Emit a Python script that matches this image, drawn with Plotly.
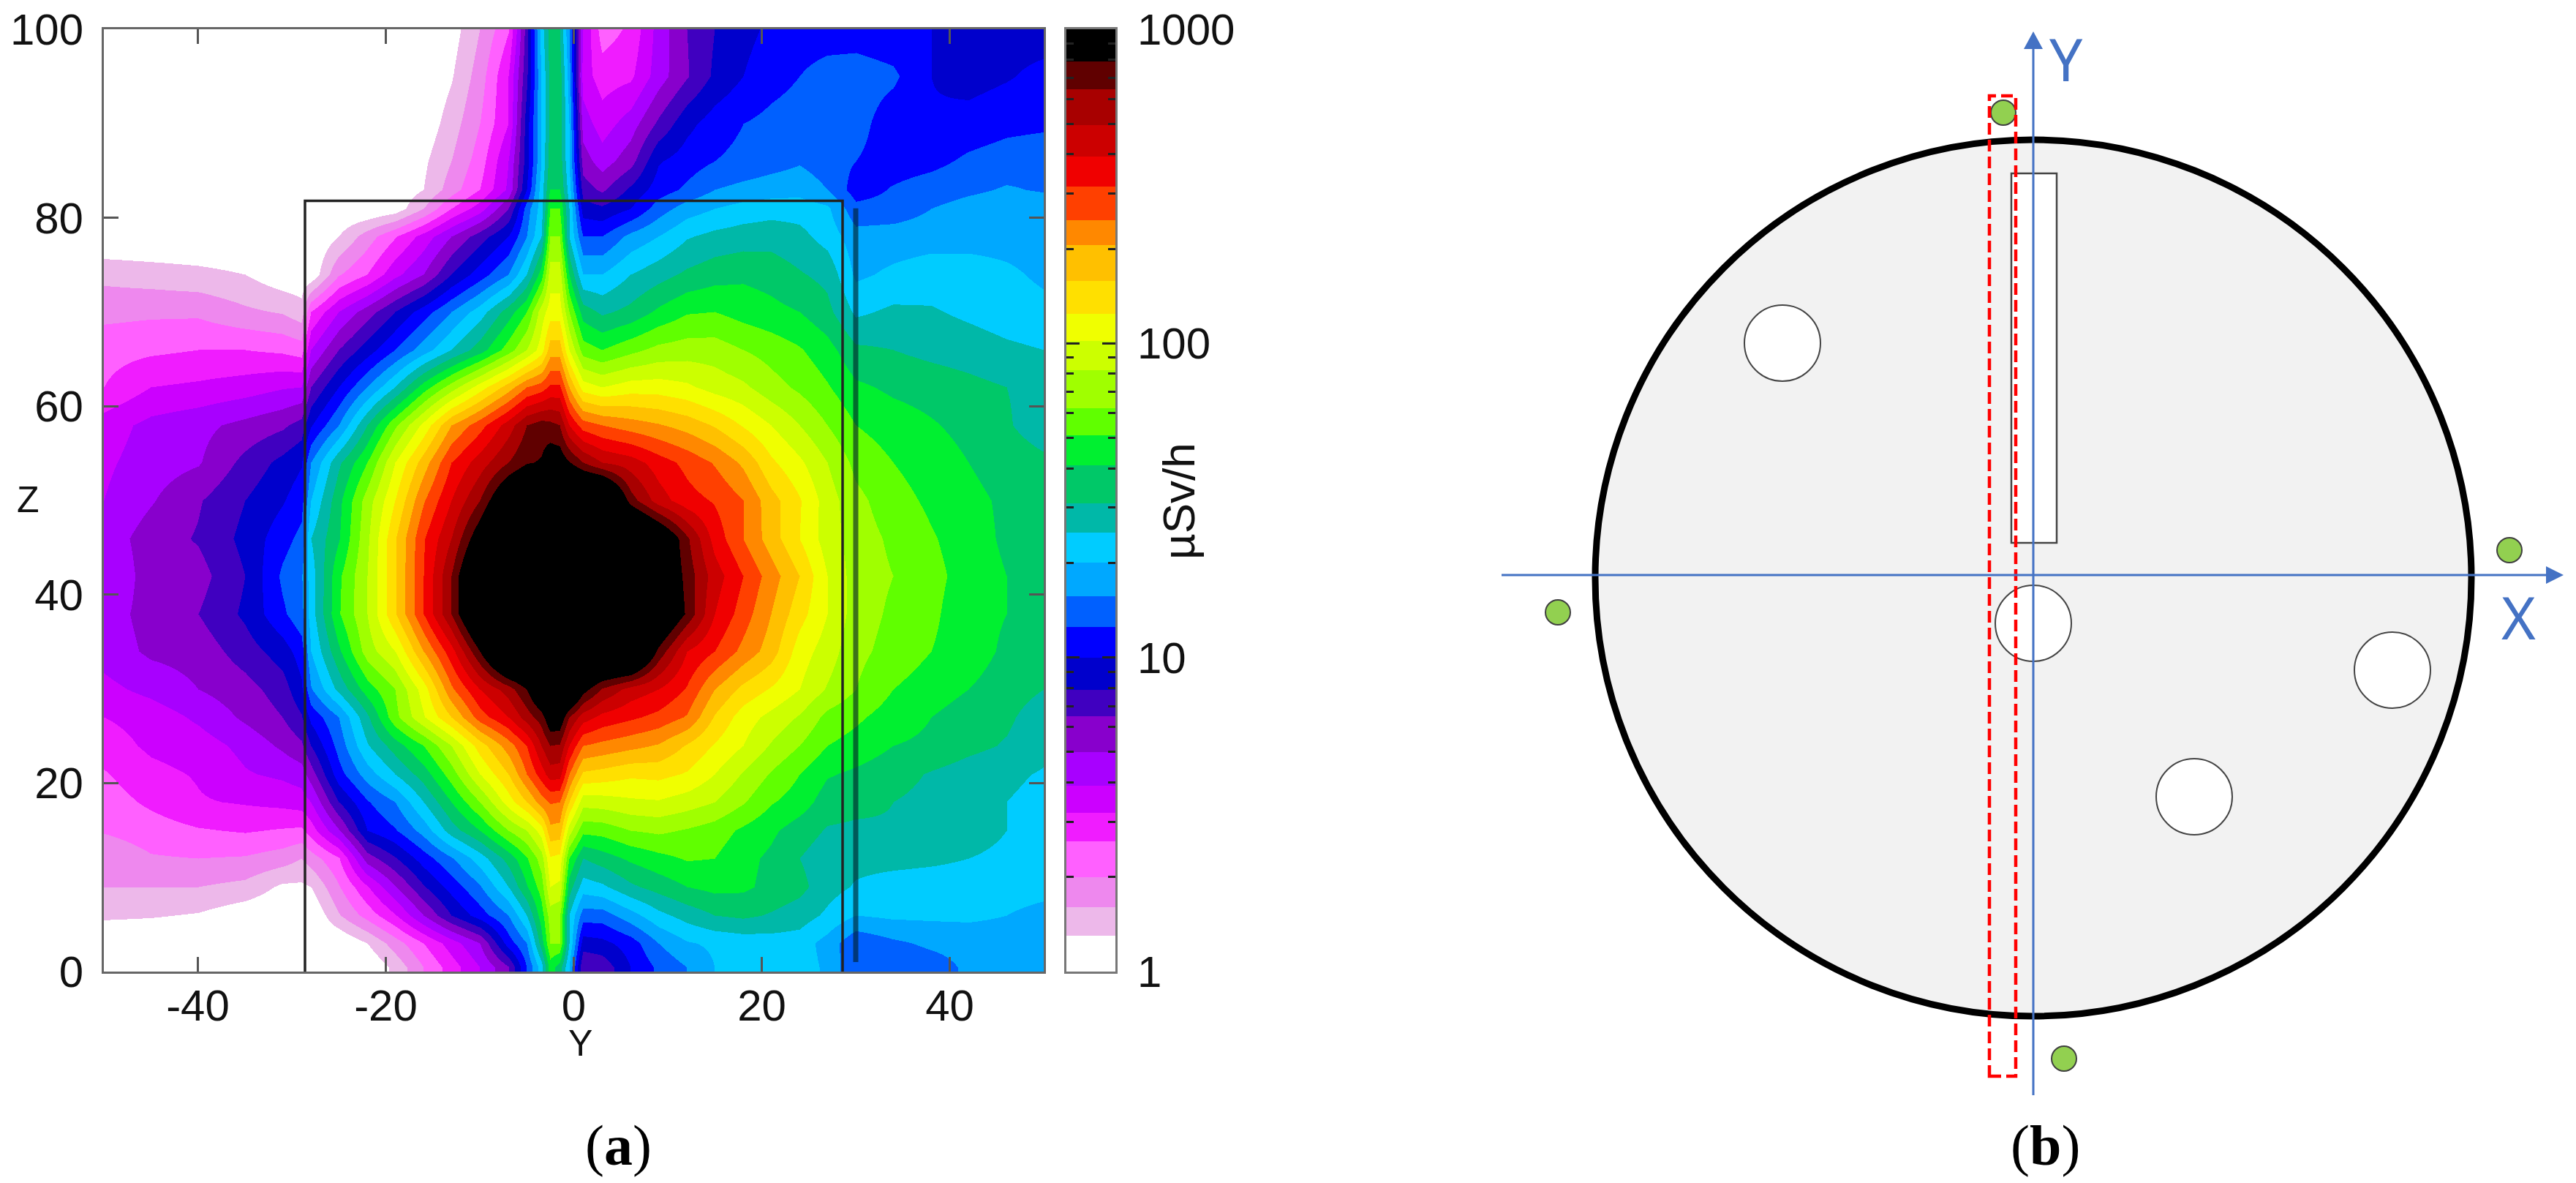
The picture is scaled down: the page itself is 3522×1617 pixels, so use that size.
import plotly.graph_objects as go

W, H = 3522, 1617

# ---------- panel (a): dose-rate map ----------
Y_NODES = [-50,-45,-40,-35,-31,-29,-28,-25,-22,-19,-16,-13,-10,-7,-5,-3.5,-2.5,-1.5,-0.5,1,3,6,9,12,15,18,21,24,27,30,34,38,42,46,50]
Z_NODES = [0.5,3,6,9,12,15,18,21,24,27,30,34,38,42,46,50,54,58,62,66,70,74,78,81,83,86,90,95,100]

# colour-band position read at each node (0 = white band ... 29 and above = black band)
BAND_Z0 = [0,0,0,0,0,0,0,0,0,1.3,3,4.5,6,7.9,11,13.5,16.5,15.5,13,8,8.3,10,11.2,12,13,13.3,13.5,13.5,12.8,11,11.2,11.5,12.2,12.3,12.3]
BAND_Z3 = [0,0,0,0,0,0,0,0,1,2.5,4,5.5,7,10.5,12,15.5,18,18,14,9.5,9.7,10.5,12,12.9,13.2,13.4,13.5,13.5,12.6,11.2,11.8,12.2,12.4,12.5,12.5]
BAND_Z6 = [1.2,1.1,0.9,0.3,0,0,0,1.9,3.4,4.9,7,9,10.5,12,14,16.5,18.5,18.2,14,11.5,11.5,12.6,13.7,14.4,15,15.2,14.9,14.5,13.8,13,13.2,13.2,13.2,13,12.7]
BAND_Z9 = [2,2,2,1.7,0.8,0.8,1,2.9,4.9,6.9,8.9,10.4,11.9,14,15.9,17.5,20,19.8,15.5,13.5,13.8,14.8,15.4,16,16.3,16.2,15.7,15.3,14.4,13.9,13.6,13.5,13.5,13.4,13.3]
BAND_Z12 = [2.2,2.9,3,2.9,2.5,2,2.5,3.9,7.5,8.9,10.5,11.9,13.5,15.4,16.9,18.5,20.9,20.7,17,15,15.5,16.2,16.7,17.1,17,16.3,15.8,15,14.4,14.3,14.3,14.2,14,13.9,13.4]
BAND_Z15 = [3.1,3.5,3.9,4.1,3.9,3.8,4.5,6.9,10,10.9,12.4,14.5,16,18,19,20.5,22.7,22.6,19.5,17.3,17.4,18,18.2,17.9,17.5,16.8,16.2,15.5,14.9,14.8,14.9,14.5,14.2,14,13.6]
BAND_Z18 = [3.5,4.2,4.9,5.1,5.3,5.5,6,9,10.9,12,14,16,18,20.5,22,23.5,24.1,24,22,19.4,19.5,19.8,19.9,19.5,19,18.1,17.1,16.5,15.5,15.3,15,14.7,14.3,14,13.7]
BAND_Z21 = [3.9,4.7,5.1,5.9,6.2,6.5,7.5,10.6,12.5,14,15.5,17.5,20,22,24,25.5,26.5,26.4,24,21.8,21.6,21.2,21.3,20.9,20,18.9,17.9,17,16.1,15.8,15.4,14.9,14.5,14.2,13.9]
BAND_Z24 = [4.5,5.2,5.5,6.3,7.2,7.8,9,11.4,13.9,15.5,17,19,21.5,23.5,25,27,28,27.9,26,24,23.7,23.3,22.9,21.9,20.9,20,18.9,18,17,16.6,16,15.8,15.3,14.9,14.3]
BAND_Z27 = [5,5.4,6.2,7.2,8,8.9,10.3,12,14.8,17.7,19.9,22,24.5,26,27.5,28.5,30,30,28,26.5,25.7,25.2,24.7,23.9,21.9,20.5,19.7,18.9,17.7,17.2,16.5,16,15.5,15.2,14.4]
BAND_Z30 = [5.7,6.3,7,7.6,8.5,9.8,11.9,14.3,16.5,18,20.5,23.8,26,27.5,29,31,32,32,32,29.5,27.9,26.6,26,24.9,23,21.7,20.9,20,18.9,18,17,16.5,16,15.5,15]
BAND_Z34 = [6.4,7.2,7.4,8.5,9.5,10.5,13,15.8,18.5,20,23,25.6,29,33,33,33,33,33,33,33,33,33,28.7,26,25,23.7,22.5,20.5,19.5,18.3,17.6,17,16.5,15.8,15.3]
BAND_Z38 = [6.5,7.4,8,9.2,10.8,11.7,13.5,16.9,19,21.9,25,28,32,33,33,33,33,33,33,33,33,33,31.5,28.8,26,24.5,23,21.4,20,18.5,17.8,17.2,16.4,16,15.4]
BAND_Z42 = [6,7.5,7.6,9,11.2,11.9,13.5,16.8,19,21.9,25,28,32,33,33,33,33,33,33,33,33,33,31,28.6,26.5,25,23.5,22,20,18.5,18,17.3,16.6,16,15.3]
BAND_Z46 = [6.4,7.5,8.1,9.3,10.6,11.3,14,15.9,18.8,21.9,24.9,27,30,33,33,33,33,33,33,33,33,33,31,28.2,25.6,24,22.5,21,19.5,18.5,17.8,17.1,16.5,15.8,15.4]
BAND_Z50 = [6,6.9,7.9,9,9.9,10.6,13,15.7,18.5,21,23.9,26,28,31,32,33,33,33,33,33,33,28.5,26.5,25.4,24.9,24,22.4,21.1,19.5,18.3,17.4,16.8,16.3,15.8,15.4]
BAND_Z54 = [5.8,6.5,6.9,8.3,9.3,9.9,12,14.8,17,20,22.5,25,26.5,28,28.9,29.1,29.8,29.8,29.1,28,27,26.5,25.5,24.7,23.9,22.8,21.2,20.2,19,17.7,17,16.5,16,15.5,15.2]
BAND_Z58 = [5.5,6.3,6.7,7.3,7.8,8.4,9.9,12,15,17.8,20.3,23,24.6,26.5,28,28.5,28.3,28,26,24.5,24,23.5,23.1,22.6,21.9,20.9,20,19,18,17,16.5,16.1,15.7,15.1,14.5]
BAND_Z62 = [4,5,5.2,5.5,5.9,6,8,10,12,14,16.5,18.5,20.5,22.5,24,24.5,25.2,25.2,23,20.5,20,20.5,20.5,20.2,19.6,19.2,18.4,17.8,17.1,16.2,15.8,15.6,15.3,15,14.7]
BAND_Z66 = [3.6,3.8,4,4,3.8,3.5,6,8,9.5,11,12.5,14,15.5,17.5,19,20.5,22.5,22.5,20,17.5,17,17.7,18.3,18.5,18.5,18,17.6,17.1,16.4,15.2,15,14.7,14.5,14.2,14]
BAND_Z70 = [2.7,2.8,2.8,2.2,1.9,1.4,4,6,7.5,9,10.5,12,13.5,15.5,17,19.5,20.5,20.5,18,15.5,14.8,15.3,16.2,16.9,17,16.6,16.3,16,15.3,13.8,14.2,14.1,13.8,13.5,13.3]
BAND_Z74 = [1.7,1.5,1.3,1,0.3,0.3,0.2,2.9,4,5.7,7,9,10.5,12,14,16.5,19.5,19.5,16,13,13,14,14.6,15.2,15.6,15.8,15.6,15.1,14.7,12.8,13.2,13.5,13.5,13.2,12.8]
BAND_Z78 = [0,0,0,0,0,0,0,1,2.5,3.9,5.4,7,8.5,10,12,14,18,18,14,11,11,12.3,13,13.9,14.3,14.5,14.6,14.3,13.6,12.4,12.5,12.6,12.6,12.6,12.5]
BAND_Z81 = [0,0,0,0,0,0,0,0,0,0.4,2,4,5.5,8,11.5,13.5,17,17,14,9.5,9.2,10,11.5,12.5,13,13.4,13.6,13.6,13.2,11.3,11.4,12,12.4,12.6,12.6]
BAND_Z83 = [0,0,0,0,0,0,0,0,0,0.2,1,2.5,4,6.2,10,13.5,16,16,13.5,8.5,7.8,9.2,10.5,11.2,12,12.3,12.5,12.6,12,10.5,11.1,11.5,11.8,12.1,11.9]
BAND_Z86 = [0,0,0,0,0,0,0,0,0,0,0.8,2,3.5,6,9.5,13,15.5,15.6,13,7.5,6.5,7.6,9.9,10.5,11,11.3,11.6,11.9,11.5,11,10.5,10.7,11.2,11.5,11.7]
BAND_Z90 = [0,0,0,0,0,0,0,0,0,0,0.3,1.5,3,5,9.5,13,15.3,15.5,13,6.5,5.5,6.5,8.2,9.7,10.5,11,11.3,11.5,11.6,11.4,10.4,10.1,10.4,10.7,10.8]
BAND_Z95 = [0,0,0,0,0,0,0,0,0,0,0,0.9,2.5,5,8.8,13,15.3,15.5,12.5,5.5,4.5,4.8,6.5,7.9,9.2,10,10.6,11,11.4,11.5,11.2,10,9.6,9.9,10.3]
BAND_Z100 = [0,0,0,0,0,0,0,0,0,0,0,0.5,2,3.9,8.5,13.5,15.5,15,12,6,3.5,4.2,6.4,8,9,9.7,10.2,10.5,10.5,10.5,10.3,10,9.8,9.6,9.5]

BAND_ROWS = [BAND_Z0,BAND_Z3,BAND_Z6,BAND_Z9,BAND_Z12,BAND_Z15,BAND_Z18,BAND_Z21,BAND_Z24,BAND_Z27,BAND_Z30,
             BAND_Z34,BAND_Z38,BAND_Z42,BAND_Z46,BAND_Z50,BAND_Z54,BAND_Z58,BAND_Z62,BAND_Z66,BAND_Z70,BAND_Z74,
             BAND_Z78,BAND_Z81,BAND_Z83,BAND_Z86,BAND_Z90,BAND_Z95,BAND_Z100]
for r in BAND_ROWS:
    assert len(r) == len(Y_NODES)

BAND_COLORS = ["#FFFFFF","#EDB8EA","#EE88EE","#FF60FF","#F01CFF","#CC00FF","#A800FF","#8800CC","#4000C0","#0000CC",
               "#0000FF","#0060FF","#00A8FF","#00CCFF","#00B8A8","#00C868","#00F030","#60FF00","#A0FF00","#CCFF00",
               "#F0FF00","#FFE000","#FFC000","#FF8800","#FF4000","#F00000","#CC0000","#A80000","#600000","#000000"]
BAND_EDGES = [1,1.3,1.6,2,2.6,3.2,3.9,5,6.5,7.9,10,12.5,15.7,20,25,31,41,51,62,82,102,124,158,205,247,316,394,494,643,788,1000]
CB_MAJOR = [1,10,100,1000]
CB_MINOR = [2,3,4,5,6,7,8,9,20,30,40,50,60,70,80,90,200,300,400,500,600,700,800,900]
X_TICKS = [-40,-20,0,20,40]
X_LABELS = ["-40","-20","0","20","40"]
Z_TICKS = [0,20,40,60,80,100]
BOX_Y = [-28.6,-28.6,28.6,28.6]
BOX_Z = [0,81.8,81.8,0]
ROD_Y = [30,30]
ROD_Z = [1,81]

n = len(BAND_COLORS)
scale = []
for i, c in enumerate(BAND_COLORS):
    scale += [[i/n, c], [(i+1)/n, c]]

def dom_x(a, b): return [a/W, b/W]
def dom_y(top, bot): return [1-bot/H, 1-top/H]

fig = go.Figure()
fig.add_trace(go.Heatmap(x=Y_NODES, y=Z_NODES, z=BAND_ROWS, colorscale=scale, zmin=0, zmax=n,
                         zsmooth="best", showscale=False, xaxis="x", yaxis="y", hoverinfo="skip"))
fig.add_trace(go.Scatter(x=BOX_Y, y=BOX_Z, mode="lines", line=dict(color="#222222", width=3.5),
                         showlegend=False, xaxis="x", yaxis="y", hoverinfo="skip"))
fig.add_trace(go.Scatter(x=ROD_Y, y=ROD_Z, mode="lines", line=dict(color="rgba(0,30,40,0.62)", width=7),
                         showlegend=False, xaxis="x", yaxis="y", hoverinfo="skip"))
fig.add_trace(go.Heatmap(x=[0,1], y=BAND_EDGES, z=[[i+0.5] for i in range(n)], colorscale=scale, zmin=0, zmax=n,
                         showscale=False, xaxis="x2", yaxis="y2", hoverinfo="skip"))

FONT = "Liberation Sans"
AX = dict(showgrid=False, zeroline=False, ticks="inside", ticklen=20, tickwidth=3, tickcolor="#555555",
          showline=True, linecolor="#666666", linewidth=3, mirror="ticks", automargin=False,
          tickfont=dict(family=FONT, size=60, color="#111111"))

# ---------- panel (b): top-view schematic, units are figure pixels from the centre ----------
CX, CY = 2780, 786
DISK_CY = -4
DISK_R = 599
HOLE_R = 52
HOLES_X = [-343, 0, 491, 220]
HOLES_Y = [317, -66, -130, -303]
SLIT_X = [-30, 32]
SLIT_Y = [549, 44]
WINDOW_X = [-60, -24]
WINDOW_Y = [655, -685]
DOTS_X = [-41, 651, -650, 42]
DOTS_Y = [632, 34, -51, -661]
DOT_R = 17
AXIS_H = [-727, 725]
AXIS_V = [-711, 743]
ARROW = 24
BLUE = "#4472C4"

shapes = [
    dict(type="circle", xref="x3", yref="y3", x0=-DISK_R, x1=DISK_R, y0=DISK_CY-DISK_R, y1=DISK_CY+DISK_R,
         fillcolor="#F2F2F2", line=dict(color="black", width=9)),
]
for hx, hy in zip(HOLES_X, HOLES_Y):
    shapes.append(dict(type="circle", xref="x3", yref="y3", x0=hx-HOLE_R, x1=hx+HOLE_R, y0=hy-HOLE_R, y1=hy+HOLE_R,
                       fillcolor="white", line=dict(color="#444444", width=2)))
shapes.append(dict(type="rect", xref="x3", yref="y3", x0=SLIT_X[0], x1=SLIT_X[1], y0=SLIT_Y[1], y1=SLIT_Y[0],
                   fillcolor="white", line=dict(color="#444444", width=2.5)))
for dx, dy in zip(DOTS_X, DOTS_Y):
    shapes.append(dict(type="circle", xref="x3", yref="y3", x0=dx-DOT_R, x1=dx+DOT_R, y0=dy-DOT_R, y1=dy+DOT_R,
                       fillcolor="#92D050", line=dict(color="#404040", width=2)))
shapes.append(dict(type="rect", xref="x3", yref="y3", x0=WINDOW_X[0], x1=WINDOW_X[1], y0=WINDOW_Y[1], y1=WINDOW_Y[0],
                   fillcolor="rgba(0,0,0,0)", line=dict(color="#FF0000", width=4.5, dash="16px,7px")))
shapes.append(dict(type="line", xref="x3", yref="y3", x0=AXIS_H[0], x1=AXIS_H[1]-ARROW, y0=0, y1=0,
                   line=dict(color=BLUE, width=3)))
shapes.append(dict(type="line", xref="x3", yref="y3", x0=0, x1=0, y0=AXIS_V[0], y1=AXIS_V[1]-ARROW,
                   line=dict(color=BLUE, width=3)))
shapes.append(dict(type="path", xref="x3", yref="y3", line=dict(width=0), fillcolor=BLUE,
                   path=f"M {AXIS_H[1]} 0 L {AXIS_H[1]-ARROW} {ARROW//2} L {AXIS_H[1]-ARROW} {-ARROW//2} Z"))
shapes.append(dict(type="path", xref="x3", yref="y3", line=dict(width=0), fillcolor=BLUE,
                   path=f"M 0 {AXIS_V[1]} L {ARROW//2+1} {AXIS_V[1]-ARROW} L {-ARROW//2-1} {AXIS_V[1]-ARROW} Z"))

def note(x, y, text, size, color="#111111", family=FONT, angle=0):
    return dict(x=x/W, y=1-y/H, xref="paper", yref="paper", text=text, showarrow=False, textangle=angle,
                font=dict(family=family, size=size, color=color), xanchor="center", yanchor="middle")

annotations = [
    note(793, 1426, "Y", 50),
    note(38, 683, "Z", 50),
    note(1612, 685, "µSv/h", 62, angle=-90),
    note(845, 1565, "(<b>a</b>)", 78, family="Liberation Serif", color="black"),
    note(2796, 1565, "(<b>b</b>)", 78, family="Liberation Serif", color="black"),
    note(2825, 80, "Y", 80, color=BLUE, family="Noto Sans"),
    note(3443, 842, "X", 80, color=BLUE, family="Noto Sans"),
]

fig.update_layout(
    template="none",
    width=W, height=H, autosize=False, margin=dict(l=0, r=0, t=0, b=0, pad=0),
    paper_bgcolor="white", plot_bgcolor="white", showlegend=False,
    xaxis=dict(AX, domain=dom_x(142, 1427), range=[-50, 50], tickmode="array", tickvals=X_TICKS, ticktext=X_LABELS,
               ticklabelstandoff=-8, anchor="y"),
    yaxis=dict(AX, domain=dom_y(40, 1328), range=[0, 100], tickmode="array", tickvals=Z_TICKS, ticklabelstandoff=13, anchor="x"),
    xaxis2=dict(domain=dom_x(1458, 1525), range=[0, 1], showticklabels=False, ticks="", showgrid=False, zeroline=False,
                automargin=False, showline=True, linecolor="#777777", linewidth=3, mirror=True, anchor="y2"),
    yaxis2=dict(AX, domain=dom_y(40, 1328), type="log", range=[0, 3], tickmode="array", tickvals=CB_MAJOR,
                ticktext=[str(v) for v in CB_MAJOR], side="right", anchor="x2", ticklabelstandoff=15,
                ticklen=18, tickcolor="#222222", linecolor="#777777",
                minor=dict(tickmode="array", tickvals=CB_MINOR, ticks="inside", ticklen=10, tickwidth=3, tickcolor="#222222")),
    xaxis3=dict(domain=dom_x(2000, 3522), range=[2000-CX, 3522-CX], visible=False, anchor="y3", automargin=False),
    yaxis3=dict(domain=[0, 1], range=[CY-H, CY], visible=False, anchor="x3", automargin=False),
    shapes=shapes, annotations=annotations,
)

fig.write_html("out.html", config=dict(displayModeBar=False), post_script="document.body.style.margin='0';")
